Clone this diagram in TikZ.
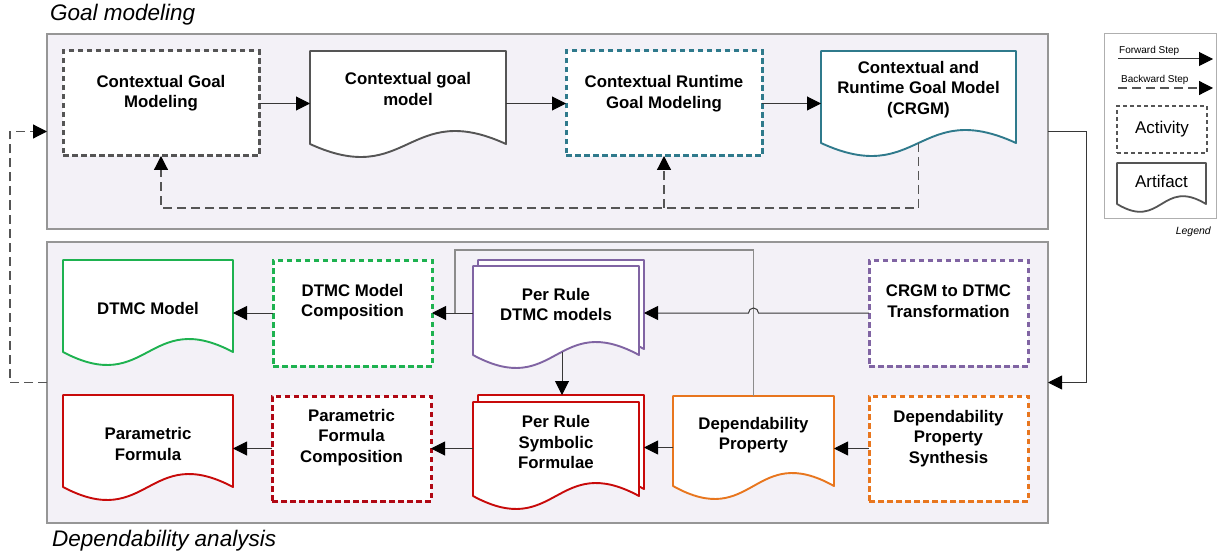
\documentclass[tikz,border=0pt]{standalone}
\usepackage{fontspec}
\setmainfont{Liberation Sans}
\usetikzlibrary{arrows.meta,calc}

\definecolor{panelfill}{RGB}{243,241,247}
\definecolor{panelline}{RGB}{150,150,150}
\definecolor{greyline}{RGB}{85,85,85}
\definecolor{tealc}{RGB}{47,122,140}
\definecolor{greenc}{RGB}{30,178,80}
\definecolor{purplec}{RGB}{128,100,163}
\definecolor{redc}{RGB}{200,10,10}
\definecolor{darkred}{RGB}{176,8,20}
\definecolor{orangec}{RGB}{232,118,30}
\definecolor{connc}{RGB}{55,55,55}
\definecolor{juncc}{RGB}{140,140,140}
\definecolor{legline}{RGB}{175,175,175}

% outline of an artifact (document) node: flat top, wavy bottom
\newcommand\docoutline[5]{% node, colour, dip, control offset, line width
  \draw[fill=white, draw=#2, line width=#5, line join=round]
    (#1.north west) -- (#1.north east) -- ($(#1.south east)+(0,-#3)$)
    .. controls ($(#1.south)+(0,-#3-#4)$) and ($(#1.south)+(0,-#3+#4)$)
    .. ($(#1.south west)+(0,-#3)$) -- cycle;}

\tikzset{
  panel/.style={draw=panelline, fill=panelfill, line width=2pt, inner sep=0, outer sep=0},
  actbox/.style={draw=#1, fill=white, line width=3pt, dash pattern=on 5.5pt off 3.5pt,
                 inner sep=0, outer sep=0},
  docnode/.style={inner sep=0, outer sep=0},
  txt/.style={font=\bfseries\fontsize{16.8}{20.5}\selectfont, align=center, inner sep=0},
  title/.style={font=\itshape\fontsize{22.5}{27}\selectfont, inner sep=0, anchor=base west},
  fwd/.style={draw=connc, line width=1pt, -{Triangle[length=14pt,width=14pt,black]}},
  bwd/.style={draw=greyline, line width=1.2pt, dash pattern=on 9pt off 5pt,
              -{Triangle[length=14pt,width=14pt,black]}},
  junc/.style={draw=juncc, line width=1.2pt},
}

\begin{document}
\begin{tikzpicture}[x=1pt, y=-1pt]
\useasboundingbox (0,0) rectangle (1219,559);

% ---------- panels and titles ----------
\node[panel, minimum width=1001, minimum height=195] (top) at (547.5,131.5) {};
\node[panel, minimum width=1001, minimum height=281] (bot) at (547.5,382.5) {};
\node[title] (t1) at (50,21) {Goal modeling};
\node[title] (t2) at (52,546) {Dependability analysis};

% ---------- legend ----------
\node[draw=legline, fill=white, line width=1pt, inner sep=0, minimum width=112, minimum height=184] (leg) at (1160,126) {};
\node[font=\fontsize{10}{12}\selectfont, inner sep=0, anchor=base west] (lfs) at (1119,54) {Forward Step};
\node[font=\fontsize{10}{12}\selectfont, inner sep=0, anchor=base west] (lbs) at (1121,83) {Backward Step};
\coordinate (f1) at (1118,59);
\coordinate (f2) at (1213,59);
\coordinate (b1) at (1118,88);
\coordinate (b2) at (1213,88);
\draw[fwd] (f1) -- (f2);
\draw[bwd] (b1) -- (b2);
\node[draw=greyline, fill=white, line width=2.4pt, dash pattern=on 4pt off 3pt, inner sep=0,
      minimum width=90, minimum height=47, font=\fontsize{17}{20}\selectfont] (lact) at (1162,129.5) {Activity};
\node[docnode, minimum width=89, minimum height=49] (lart) at (1161.5,187.5) {};
\docoutline{lart}{greyline}{8}{27}{1.8pt}
\node[inner sep=0, font=\fontsize{17}{20}\selectfont] (lart-t) at ([yshift=6pt]lart.center) {Artifact};
\node[inner sep=0, font=\itshape\fontsize{10.5}{12}\selectfont, anchor=base east] (lleg) at (1211,234) {Legend};

% ---------- goal modeling ----------
\node[actbox=greyline, minimum width=196, minimum height=105] (cgm) at (161,103.5) {};
\node[docnode, minimum width=196, minimum height=106] (cgmod) at (408,104) {};
\docoutline{cgmod}{greyline}{13}{45}{1.9pt}
\node[actbox=tealc, minimum width=196, minimum height=105] (rgm) at (664,103.5) {};
\node[docnode, minimum width=195, minimum height=105] (crgm) at (918.5,103.5) {};
\docoutline{crgm}{tealc}{13}{45}{1.9pt}

\node[txt] (cgm-t)   at ([yshift=10.5pt]cgm.center)  {Contextual Goal\\Modeling};
\node[txt] (cgmod-t) at ([yshift=15pt]cgmod.center)  {Contextual goal\\model};
\node[txt] (rgm-t)   at ([yshift=10pt]rgm.center)    {Contextual Runtime\\Goal Modeling};
\node[txt] (crgm-t)  at ([yshift=14pt]crgm.center)   {Contextual and\\Runtime Goal Model\\(CRGM)};

% ---------- dependability analysis ----------
\node[docnode, minimum width=170, minimum height=105] (dtmc) at (148,312.5) {};
\docoutline{dtmc}{greenc}{13}{45}{1.9pt}
\node[actbox=greenc, minimum width=159, minimum height=106] (comp) at (352.5,313) {};
\node[docnode, minimum width=166, minimum height=102] (prdb) at (561,311) {};
\docoutline{prdb}{purplec}{13}{45}{1.9pt}
\node[docnode, minimum width=166, minimum height=102] (prdf) at (556,317) {};
\docoutline{prdf}{purplec}{13}{45}{1.9pt}
\node[actbox=purplec, minimum width=159, minimum height=106] (transf) at (948.5,313) {};

\node[docnode, minimum width=170, minimum height=105] (pf) at (148,447.5) {};
\docoutline{pf}{redc}{13}{45}{1.9pt}
\node[actbox=darkred, minimum width=159, minimum height=105] (pfc) at (351.5,448.5) {};
\node[docnode, minimum width=166, minimum height=107] (prsb) at (561,448.5) {};
\docoutline{prsb}{redc}{13}{45}{1.9pt}
\node[docnode, minimum width=166, minimum height=107] (prsf) at (556,455.5) {};
\docoutline{prsf}{redc}{13}{45}{1.9pt}
\node[docnode, minimum width=161, minimum height=103] (dp) at (753.5,447.5) {};
\docoutline{dp}{orangec}{13}{45}{1.9pt}
\node[actbox=orangec, minimum width=159, minimum height=105] (dps) at (948.5,448.5) {};

\node[txt] (dtmc-t)   at ([yshift=4pt]dtmc.center)     {DTMC Model};
\node[txt] (comp-t)   at ([yshift=11pt]comp.center)    {DTMC Model\\Composition};
\node[txt] (prdf-t)   at ([yshift=12.5pt]prdf.center)  {Per Rule\\DTMC models};
\node[txt] (transf-t) at ([yshift=12pt]transf.center)  {CRGM to DTMC\\Transformation};
\node[txt] (pf-t)     at ([yshift=3.5pt]pf.center)     {Parametric\\Formula};
\node[txt] (pfc-t)    at ([yshift=11pt]pfc.center)     {Parametric\\Formula\\Composition};
\node[txt] (prsf-t)   at ([yshift=13.5pt]prsf.center)  {Per Rule\\Symbolic\\Formulae};
\node[txt] (dp-t)     at ([yshift=12.5pt]dp.center)    {Dependability\\Property};
\node[txt] (dps-t)    at ([yshift=10pt]dps.center)     {Dependability\\Property\\Synthesis};

% ---------- forward steps ----------
\draw[fwd] (cgm.east) -- (cgm.east -| cgmod.west);
\draw[fwd] (cgmod.east |- rgm.west) -- (rgm.west);
\draw[fwd] (rgm.east) -- (rgm.east -| crgm.west);

\coordinate (jt) at (600,250);
\coordinate (jn) at (455,313);
\draw[junc] (dp.north) |- (jt) -| (jn);

\draw[fwd] (transf.west) -- ($(dp.north |- transf.west)+(5,0)$)
  arc[start angle=0, end angle=180, radius=5pt] -- (transf.west -| prdb.east);
\draw[fwd] (prdf.west |- comp.east) -- (comp.east);
\draw[fwd] (comp.west) -- (comp.west -| dtmc.east);
\draw[fwd] ($(prdf.south)+(6,-16)$) -- ($(prdf.south |- prsb.north)+(6,0)$);

\draw[fwd] (dps.west) -- (dps.west -| dp.east);
\draw[fwd] (dp.west) -- (dp.west -| prsb.east);
\draw[fwd] (prsf.west |- pfc.east) -- (pfc.east);
\draw[fwd] (pfc.west) -- (pfc.west -| pf.east);

% ---------- backward steps and hand-over between panels ----------
\coordinate (fb) at (500,208);
\draw[bwd] ($(crgm.south)+(0,-13)$) |- (fb) -| (cgm.south);
\draw[bwd] (rgm.south |- fb) -- (rgm.south);

\coordinate (lc) at (10,300);
\draw[bwd] (bot.west) -| (lc) |- (top.west);
\coordinate (rc) at (1086,300);
\draw[fwd] (top.east) -| (rc) |- (bot.east);
\end{tikzpicture}
\end{document}
